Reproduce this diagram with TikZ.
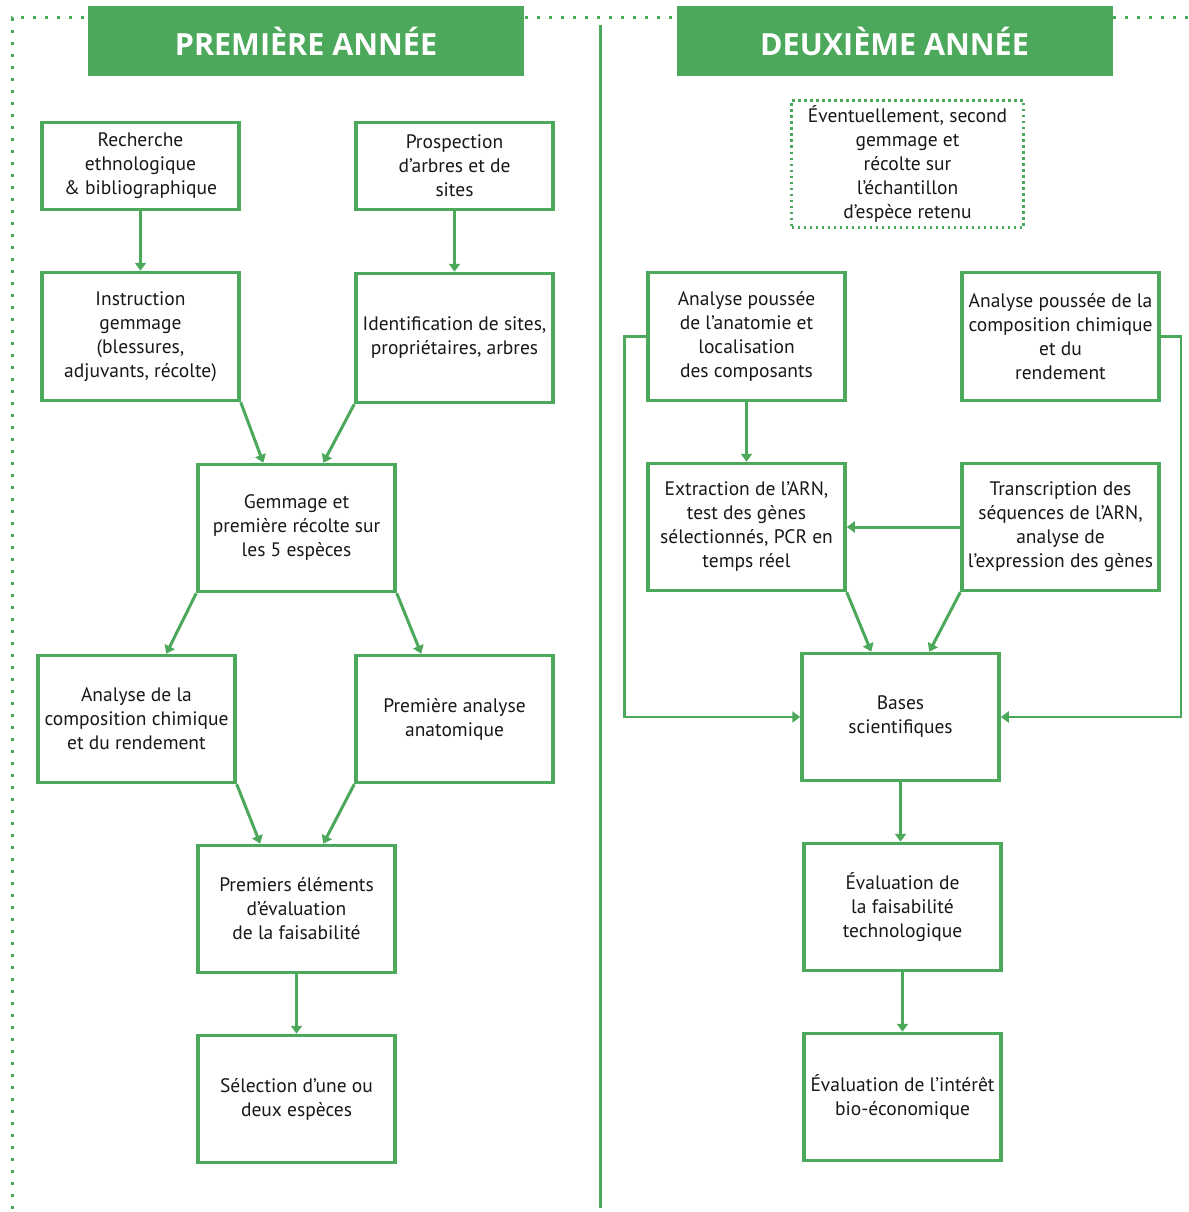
\documentclass[tikz,border=0pt]{standalone}
\usepackage{fontspec}
\setmainfont{PT Sans}
\newfontfamily\hdrfont{Open Sans}
\usetikzlibrary{arrows.meta}
\definecolor{gr}{HTML}{4CA85A}
\definecolor{tx}{HTML}{1A1718}
\begin{document}
\begin{tikzpicture}[x=1pt,y=-1pt,
  box/.style={draw=gr, line width=3.5pt, minimum width=197pt, minimum height=127pt,
    align=center, text=tx, font=\fontsize{19.5}{24}\selectfont, inner sep=2pt},
  arr/.style={draw=gr, line width=3pt, -{Triangle[length=8pt,width=11pt]}},
  thinarr/.style={draw=gr, line width=2.5pt, -{Triangle[length=8pt,width=11pt]}},
  hdr/.style={fill=gr, minimum width=436pt, minimum height=70pt, inner sep=0pt,
    text=white, font=\hdrfont\fontsize{30.5}{36}\bfseries\selectfont},
  dotbox/.style={draw=gr, line width=2.5pt, dash pattern=on 2.5pt off 3.5pt,
    minimum width=232pt, minimum height=127pt, align=center, text=tx,
    font=\fontsize{19.5}{24}\selectfont, inner sep=2pt},
  frame/.style={draw=gr, line width=3pt, dash pattern=on 3pt off 9pt},
  divider/.style={draw=gr, line width=3pt}
]
\useasboundingbox (0,0) rectangle (1188,1212);

% frame and divider
\draw[frame] (1188,18) -- (12,18) -- (12,1212);
\draw[divider] (600,25) -- (600,1208);

% headers
\node[hdr] (h1) at (306,41) {PREMIÈRE ANNÉE};
\node[hdr] (h2) at (894.5,41) {DEUXIÈME ANNÉE};

% first year
\node[box, minimum height=87pt] (rech) at (140.5,166) {Recherche\\ethnologique\\\& bibliographique};
\node[box, minimum height=87pt] (prosp) at (454.5,166) {Prospection\\d'arbres et de\\sites};
\node[box, minimum height=128pt] (instr) at (140.5,336.5) {Instruction\\gemmage\\(blessures,\\adjuvants, récolte)};
\node[box, minimum height=129pt] (ident) at (454.5,338) {Identification de sites,\\propriétaires, arbres};
\node[box] (gem) at (296.5,528) {Gemmage et\\première récolte sur\\les 5 espèces};
\node[box] (acomp) at (136.5,719) {Analyse de la\\composition chimique\\et du rendement};
\node[box] (pana) at (454.5,719) {Première analyse\\anatomique};
\node[box] (prem) at (296.5,909) {Premiers éléments\\d'évaluation\\de la faisabilité};
\node[box] (sel) at (296.5,1099) {Sélection d'une ou\\deux espèces};

% second year
\node[dotbox] (evt) at (907.5,164) {Éventuellement, second\\gemmage et\\récolte sur\\l’échantillon\\d’espèce retenu};
\node[box, minimum height=128pt] (apa) at (746.5,336.5) {Analyse poussée\\de l'anatomie et\\localisation\\des composants};
\node[box, minimum height=128pt] (apc) at (1060.5,336.5) {Analyse poussée de la\\composition chimique\\et du\\rendement};
\node[box] (ext) at (746.5,527) {Extraction de l’ARN,\\test des gènes\\sélectionnés, PCR en\\temps réel};
\node[box] (trs) at (1060.5,527) {Transcription des\\séquences de l’ARN,\\analyse de\\l’expression des gènes};
\node[box] (bas) at (900.5,717) {Bases\\scientifiques};
\node[box] (evf) at (902.5,907) {Évaluation de\\la faisabilité\\technologique};
\node[box] (evi) at (902.5,1097) {Évaluation de l’intérêt\\bio-économique};

% first-year connectors
\draw[arr] (rech.south) -- (instr.north);
\draw[arr] (prosp.south) -- (ident.north);
\draw[arr] (instr.south east) -- ([xshift=67pt]gem.north west);
\draw[arr] (ident.south west) -- ([xshift=127pt]gem.north west);
\draw[arr] (gem.south west) -- ([xshift=130pt]acomp.north west);
\draw[arr] (gem.south east) -- ([xshift=67pt]pana.north west);
\draw[arr] (acomp.south east) -- ([xshift=64pt]prem.north west);
\draw[arr] (pana.south west) -- ([xshift=127pt]prem.north west);
\draw[arr] (prem.south) -- (sel.north);

% second-year connectors
\draw[arr] (apa.south) -- (ext.north);
\draw[arr] (trs.west) -- (ext.east);
\draw[arr] (ext.south east) -- ([xshift=71pt]bas.north west);
\draw[arr] (trs.south west) -- ([xshift=129pt]bas.north west);
\draw[arr] (bas.south) -- (bas.south |- evf.north);
\draw[arr] (evf.south) -- (evi.north);
\draw[thinarr] (apa.west) -- ++(-22,0) |- (bas.west);
\draw[thinarr] (apc.east) -- ++(20,0) |- (bas.east);
\end{tikzpicture}
\end{document}
